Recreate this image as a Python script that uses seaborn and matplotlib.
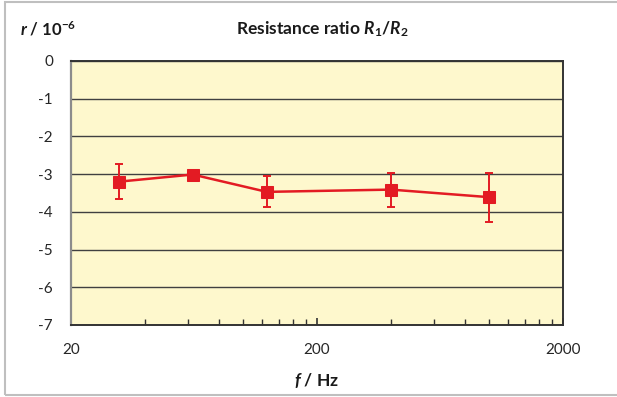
import matplotlib
matplotlib.use("Agg")
import matplotlib.pyplot as plt
from matplotlib.patches import Rectangle
from matplotlib.ticker import FixedLocator, NullFormatter
import pandas as pd
import seaborn as sns

# data
freq_hz = [31.25, 62.5, 125, 400, 1000]
ratio = [-3.20, -3.01, -3.47, -3.41, -3.61]
ratio_err = [0.47, 0.04, 0.41, 0.45, 0.65]

major_x = [20, 200, 2000]
minor_x = [40, 60, 80, 100, 120, 140, 160, 180,
           400, 600, 800, 1000, 1200, 1400, 1600, 1800]
y_ticks = [0, -1, -2, -3, -4, -5, -6, -7]

RED = "#E31B23"
FONT = "Lato"

sns.set_theme(style="white")
plt.rcParams["font.family"] = [FONT, "DejaVu Sans"]
plt.rcParams["mathtext.fontset"] = "custom"
plt.rcParams["mathtext.rm"] = FONT + ":bold"
plt.rcParams["mathtext.it"] = FONT + ":italic"
plt.rcParams["mathtext.bf"] = FONT + ":bold"
plt.rcParams["mathtext.bfit"] = FONT + ":bold:italic"

df = pd.DataFrame({"f": freq_hz, "r": ratio, "err": ratio_err})

fig = plt.figure(figsize=(6.17, 3.97), dpi=100)
ax = fig.add_axes([71 / 617, 1 - 325 / 397, (563 - 71) / 617, (325 - 61) / 397])
ax.set_facecolor("#FEF8CD")

ax.errorbar(df["f"], df["r"], yerr=df["err"], fmt="none", ecolor=RED,
            elinewidth=1.4, capsize=2.8, capthick=1.4, zorder=3)
sns.lineplot(data=df, x="f", y="r", color=RED, lw=1.8, marker="s",
             markersize=8, markeredgecolor=RED, ax=ax, zorder=4)

ax.set_xscale("log")
ax.set_xlim(20, 2000)
ax.set_ylim(-7, 0)
ax.xaxis.set_major_locator(FixedLocator(major_x))
ax.xaxis.set_minor_locator(FixedLocator(minor_x))
ax.xaxis.set_minor_formatter(NullFormatter())
ax.set_xticks(major_x)
ax.set_xticklabels([str(v) for v in major_x])
ax.set_yticks(y_ticks)
ax.set_yticklabels([str(v) for v in y_ticks])

ax.grid(axis="y", color="#404040", lw=1.0)
ax.grid(axis="x", visible=False)
ax.tick_params(axis="x", which="major", bottom=True, direction="in", length=5,
               width=1.2, color="#333333", pad=13, labelsize=11,
               labelcolor="#262626")
ax.tick_params(axis="x", which="minor", bottom=True, direction="in", length=4,
               width=1.0, color="#333333")
ax.tick_params(axis="y", direction="in", length=0, pad=13, labelsize=11,
               labelcolor="#262626")
for side in ["top", "right", "bottom"]:
    ax.spines[side].set_color("#333333")
    ax.spines[side].set_linewidth(1.4)
ax.spines["left"].set_color("#8c8c8c")
ax.spines["left"].set_linewidth(1.6)

ax.set_xlabel("")
ax.set_ylabel("")

fig.text(322 / 617, 1 - 29 / 397,
         r"Resistance ratio $\mathbfit{R}_{\mathbf{1}}$/$\mathbfit{R}_{\mathbf{2}}$",
         ha="center", va="center", fontsize=12.5, fontweight="bold", color="#1a1a1a")
fig.text(20 / 617, 1 - 29 / 397, r"$\mathbfit{r}$ / 10$^{\mathbf{-}\mathbf{6}}$",
         ha="left", va="center", fontsize=12, fontweight="bold", color="#1a1a1a")
fig.text(317 / 617, 1 - 380 / 397, r"$\mathbfit{f}$ / Hz",
         ha="center", va="center", fontsize=12.5, fontweight="bold", color="#1a1a1a")

fig.patches.append(Rectangle((5 / 617, 2 / 397), 1.0, 393 / 397,
                             transform=fig.transFigure, fill=False,
                             ec="#BFBFBF", lw=1.5))

fig.savefig("out.png", dpi=100)
